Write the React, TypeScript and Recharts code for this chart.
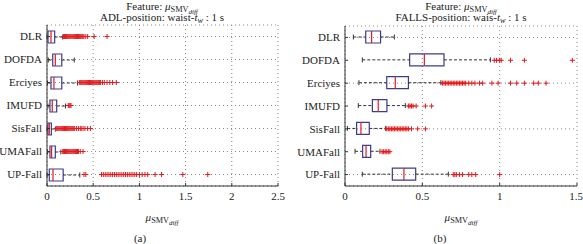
import { ComposedChart, Bar, Scatter, XAxis, YAxis, CartesianGrid } from 'recharts';

const categories = ['DLR', 'DOFDA', 'Erciyes', 'IMUFD', 'SisFall', 'UMAFall', 'UP-Fall'];

// (a) ADL, waist, tw = 1 s
const adlMin = [0, 0.014, 0.005, 0.01, 0, 0.005, 0];
const adlQ1 = [0.011, 0.062, 0.043, 0.032, 0.01, 0.032, 0.025];
const adlMedian = [0.043, 0.09, 0.075, 0.057, 0.025, 0.05, 0.065];
const adlQ3 = [0.083, 0.16, 0.16, 0.105, 0.047, 0.09, 0.175];
const adlMax = [0.17, 0.295, 0.33, 0.2, 0.09, 0.15, 0.355];
const adlOutliers = [
  [0.18, 0.19, 0.2, 0.21, 0.22, 0.23, 0.24, 0.25, 0.26, 0.27, 0.28, 0.29, 0.3, 0.31, 0.32, 0.33, 0.34, 0.35, 0.36, 0.37, 0.38, 0.39, 0.4, 0.42, 0.44, 0.51, 0.65],
  [],
  [0.35, 0.36, 0.37, 0.38, 0.39, 0.4, 0.41, 0.42, 0.43, 0.44, 0.45, 0.46, 0.47, 0.48, 0.49, 0.5, 0.51, 0.52, 0.53, 0.54, 0.55, 0.56, 0.57, 0.58, 0.6, 0.62, 0.65, 0.68, 0.71, 0.75],
  [0.23, 0.24, 0.25, 0.26],
  [0.1, 0.11, 0.12, 0.13, 0.14, 0.15, 0.16, 0.17, 0.18, 0.19, 0.2, 0.21, 0.22, 0.23, 0.24, 0.25, 0.26, 0.27, 0.28, 0.29, 0.3, 0.32, 0.34, 0.36, 0.37, 0.39, 0.41, 0.44, 0.47],
  [0.17, 0.18, 0.19, 0.2, 0.21, 0.22, 0.23, 0.24, 0.25, 0.26, 0.27, 0.28, 0.29, 0.3, 0.31, 0.32, 0.33, 0.34, 0.36, 0.39],
  [0.4, 0.42, 0.59, 0.61, 0.63, 0.65, 0.67, 0.69, 0.71, 0.73, 0.75, 0.77, 0.79, 0.81, 0.83, 0.85, 0.87, 0.89, 0.91, 0.93, 0.95, 0.97, 1.0, 1.03, 1.06, 1.09, 1.17, 1.24, 1.47, 1.74],
];
const adlTicks = [0, 0.5, 1, 1.5, 2, 2.5];

// (b) FALLS, waist, tw = 1 s
const fallMin = [0.054, 0.112, 0.09, 0.086, 0.015, 0.065, 0.112];
const fallQ1 = [0.134, 0.418, 0.27, 0.177, 0.075, 0.114, 0.306];
const fallMedian = [0.172, 0.513, 0.325, 0.215, 0.103, 0.136, 0.381];
const fallQ3 = [0.23, 0.64, 0.41, 0.271, 0.157, 0.166, 0.457];
const fallMax = [0.319, 0.94, 0.62, 0.39, 0.263, 0.226, 0.668];
const fallOutliers = [
  [],
  [0.965, 0.98, 1.0, 1.01, 1.07, 1.16, 1.47],
  [0.63, 0.64, 0.65, 0.66, 0.67, 0.68, 0.69, 0.7, 0.71, 0.72, 0.73, 0.74, 0.75, 0.76, 0.77, 0.78, 0.8, 0.82, 0.84, 0.87, 0.89, 0.95, 0.99, 1.07, 1.11, 1.16, 1.22, 1.25, 1.3],
  [0.41, 0.42, 0.43, 0.44, 0.46, 0.52, 0.56],
  [0.27, 0.28, 0.29, 0.3, 0.31, 0.32, 0.33, 0.34, 0.35, 0.36, 0.37, 0.38, 0.39, 0.4, 0.41, 0.43, 0.47, 0.52],
  [0.24, 0.25, 0.26, 0.27, 0.28, 0.29],
  [0.7, 0.71, 0.72, 0.74, 0.76, 0.8, 0.82, 0.845, 1.0],
];
const fallTicks = [0, 0.5, 1, 1.5];

const BOX = '#3c3c8c';
const MED = '#e41a1c';
const WHISK = '#333';
const FONT = '"Liberation Serif", "DejaVu Serif", serif';

const buildRows = (mins: number[], q1: number[], med: number[], q3: number[], maxs: number[]) =>
  categories.map((name, i) => ({
    name,
    base: mins[i],
    lowWhisker: q1[i] - mins[i],
    lowBox: med[i] - q1[i],
    highBox: q3[i] - med[i],
    highWhisker: maxs[i] - q3[i],
  }));

const buildPoints = (outliers: number[][]) =>
  categories.flatMap((name, i) => outliers[i].map((v) => ({ name, v })));

const LowWhisker = (p: any) => {
  const cy = p.y + p.height / 2;
  return (
    <g>
      <line x1={p.x} x2={p.x + p.width} y1={cy} y2={cy} stroke={WHISK} strokeDasharray="3 2" />
      <line x1={p.x} x2={p.x} y1={cy - 2.5} y2={cy + 2.5} stroke={WHISK} />
    </g>
  );
};

const HighWhisker = (p: any) => {
  const cy = p.y + p.height / 2;
  const x2 = p.x + p.width;
  return (
    <g>
      <line x1={p.x} x2={x2} y1={cy} y2={cy} stroke={WHISK} strokeDasharray="3 2" />
      <line x1={x2} x2={x2} y1={cy - 2.5} y2={cy + 2.5} stroke={WHISK} />
    </g>
  );
};

const LowBox = (p: any) => {
  const { x, y, width, height } = p;
  return (
    <g>
      <path d={`M${x + width},${y}H${x}V${y + height}H${x + width}`} fill="none" stroke={BOX} strokeWidth={1.2} />
      <line x1={x + width} x2={x + width} y1={y} y2={y + height} stroke={MED} strokeWidth={1.2} />
    </g>
  );
};

const HighBox = (p: any) => {
  const { x, y, width, height } = p;
  return (
    <path d={`M${x},${y}H${x + width}V${y + height}H${x}`} fill="none" stroke={BOX} strokeWidth={1.2} />
  );
};

const Plus = (p: any) => (
  <path d={`M${p.cx - 2.5},${p.cy}h5M${p.cx},${p.cy - 2.5}v5`} stroke={MED} strokeWidth={1} />
);

const Panel = ({ rows, points, ticks, width, axisWidth, right, top }: any) => {
  const max = ticks[ticks.length - 1];
  return (
    <ComposedChart
      width={width}
      height={244}
      data={rows}
      layout="vertical"
      margin={{ top, right, bottom: 38, left: 0 }}
    >
      <CartesianGrid stroke="#888" strokeDasharray="1 3" />
      <XAxis
        type="number"
        domain={[0, max]}
        ticks={ticks}
        height={20}
        tickSize={-3}
        tickMargin={9}
        stroke="#333"
        tick={{ fill: '#222', fontSize: 11 }}
      />
      <XAxis xAxisId="top" orientation="top" type="number" domain={[0, max]} ticks={ticks} height={0} tick={false} mirror tickSize={3} stroke="#333" />
      <YAxis
        type="category"
        dataKey="name"
        allowDuplicatedCategory={false}
        width={axisWidth}
        tickSize={-3}
        tickMargin={8}
        stroke="#333"
        tick={{ fill: '#222', fontSize: 11 }}
      />
      <YAxis yAxisId="right" orientation="right" type="category" dataKey="name" width={0} tick={false} mirror tickSize={3} stroke="#333" />
      <Bar dataKey="base" stackId="b" fill="none" barSize={12} isAnimationActive={false} />
      <Bar dataKey="lowWhisker" stackId="b" shape={LowWhisker} isAnimationActive={false} />
      <Bar dataKey="lowBox" stackId="b" shape={LowBox} isAnimationActive={false} />
      <Bar dataKey="highBox" stackId="b" shape={HighBox} isAnimationActive={false} />
      <Bar dataKey="highWhisker" stackId="b" shape={HighWhisker} isAnimationActive={false} />
      <Scatter data={points} dataKey="v" shape={Plus} isAnimationActive={false} />
    </ComposedChart>
  );
};

const subStyle = (size: string, italic = false): any => ({
  fontSize: size,
  lineHeight: 0,
  verticalAlign: '-0.22em',
  fontStyle: italic ? 'italic' : 'normal',
});

const Mu = () => (
  <span>
    <i>μ</i>
    <span style={subStyle('0.75em')}>
      SMV<span style={subStyle('0.85em', true)}>diff</span>
    </span>
  </span>
);

const Tw = () => (
  <>
    <i>t</i>
    <span style={subStyle('0.75em', true)}>w</span>
  </>
);

// y is the vertical centre of the main text line
const text = (x: number, y: number, children: any) => (
  <div
    style={{
      position: 'absolute',
      left: x,
      top: y - 6,
      transform: 'translateX(-50%)',
      whiteSpace: 'nowrap',
      fontSize: 11,
      lineHeight: '12px',
      height: 12,
      color: '#222',
    }}
  >
    {children}
  </div>
);

export default function App() {
  return (
    <div style={{ position: 'absolute', left: 0, top: 0, width: 583, height: 244, background: '#fff', fontFamily: FONT }}>
      <div style={{ position: 'absolute', left: 0, top: 0 }}>
        <Panel rows={buildRows(adlMin, adlQ1, adlMedian, adlQ3, adlMax)} points={buildPoints(adlOutliers)} ticks={adlTicks} width={290} axisWidth={47} right={12} top={25} />
      </div>
      <div style={{ position: 'absolute', left: 290, top: 0 }}>
        <Panel rows={buildRows(fallMin, fallQ1, fallMedian, fallQ3, fallMax)} points={buildPoints(fallOutliers)} ticks={fallTicks} width={293} axisWidth={55} right={6} top={26} />
      </div>
      {text(162, 6, <>Feature: <Mu /></>)}
      {text(162, 16.5, <>ADL-position: waist-<Tw /> : 1 s</>)}
      {text(461, 6, <>Feature: <Mu /></>)}
      {text(461, 16.5, <>FALLS-position: wais-<Tw /> : 1 s</>)}
      {text(162, 217, <Mu />)}
      {text(461, 217, <Mu />)}
      {text(140, 238, '(a)')}
      {text(440, 238, '(b)')}
    </div>
  );
}
